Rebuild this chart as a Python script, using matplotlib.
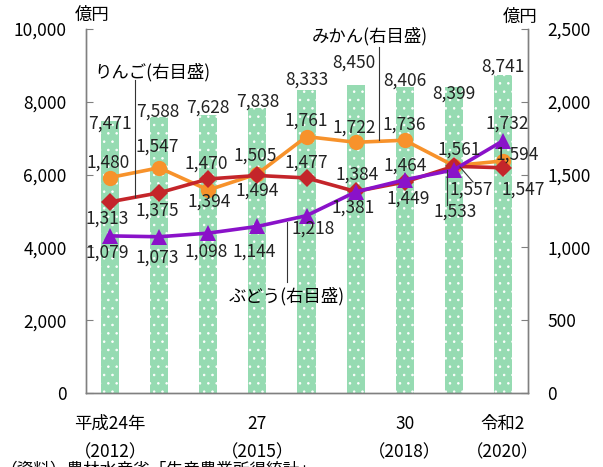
import numpy as np
import matplotlib
matplotlib.use("Agg")
import matplotlib.pyplot as plt
from matplotlib.lines import Line2D
from matplotlib.ticker import FuncFormatter

plt.rcParams.update({
    "font.family": ["Noto Sans CJK JP", "DejaVu Sans"],
    "font.size": 12.5,
    "hatch.linewidth": 0.6,
})

# ---------------------------
# Data (億円)
# ---------------------------
YEARS = [2012, 2013, 2014, 2015, 2016, 2017, 2018, 2019, 2020]
TOTAL = [7471, 7588, 7628, 7838, 8333, 8450, 8406, 8399, 8741]
MIKAN = [1480, 1547, 1394, 1505, 1761, 1722, 1736, 1561, 1594]
RINGO = [1313, 1375, 1470, 1494, 1477, 1384, 1449, 1557, 1547]
BUDOU = [1079, 1073, 1098, 1144, 1218, 1381, 1464, 1533, 1732]
XLABELS = {0: "平成24年\n（2012）", 3: "27\n（2015）", 6: "30\n（2018）", 8: "令和2\n（2020）"}

COL_BAR = "#96DBB2"
COL_MIKAN = "#F7922B"
COL_RINGO = "#C4252A"
COL_BUDOU = "#8A12C9"
COL_SPINE = "#808080"

# label offsets in pixels (dx, dy up)
OFF_TOTAL = [(0, -3), (-1, 5), (0, 8), (0, 6), (0, 10), (-2, 23), (0, 6), (0, -6), (0, 8)]
OFF_MIKAN = [(-2, 15), (-2, 21), (1, -12), (-2, 18), (0, 16), (-1, 15), (0, 16), (5, 16), (14, 6)]
OFF_RINGO = [(-3, -17), (-2, -18), (-2, 15), (0, -15), (0, 15), (2, 17), (3, -17), (17, -23), (20, -22)]
OFF_BUDOU = [(-3, -17), (-2, -21), (-2, -18), (-3, -25), (7, -13), (-2, -16), (0, 14), (1, -42), (4, 17)]

W, H = 603, 467


def px(x, y):
    return (x / W, 1 - y / H)


fig = plt.figure(figsize=(W / 100, H / 100), dpi=100)
ax = fig.add_axes([86 / W, 1 - 393 / H, (528 - 86) / W, (393 - 29) / H])
ax2 = ax.twinx()

x = np.arange(len(YEARS))
ax.bar(x, TOTAL, width=0.37, color=COL_BAR, edgecolor="white", linewidth=0, hatch="..")
ax.set_xlim(-0.49, 8.51)
ax.set_ylim(0, 10000)
ax2.set_ylim(0, 2500)

for xi, v, (dx, dy) in zip(x, TOTAL, OFF_TOTAL):
    ax.annotate(f"{v:,}", (xi, v), xytext=(dx, dy), textcoords="offset pixels",
                ha="center", va="center", color="#222222")

series = [
    (MIKAN, COL_MIKAN, "o", 11, OFF_MIKAN),
    (RINGO, COL_RINGO, "D", 9.5, OFF_RINGO),
    (BUDOU, COL_BUDOU, "^", 12, OFF_BUDOU),
]
for vals, col, mk, ms, offs in series:
    ax2.plot(x, vals, color=col, lw=2.6, marker=mk, markersize=ms, markeredgewidth=0)
for vals, col, mk, ms, offs in series:
    for xi, v, (dx, dy) in zip(x, vals, offs):
        ax2.annotate(f"{v:,}", (xi, v), xytext=(dx, dy), textcoords="offset pixels",
                     ha="center", va="center", color="#222222", zorder=5)

# axes styling
for a in (ax, ax2):
    a.spines["top"].set_visible(False)
    for s in ("left", "right", "bottom"):
        a.spines[s].set_color(COL_SPINE)
        a.spines[s].set_linewidth(1.0)
ax.set_yticks(np.arange(0, 10001, 2000))
ax2.set_yticks(np.arange(0, 2501, 500))
fmt = FuncFormatter(lambda v, p: f"{int(v):,}")
ax.yaxis.set_major_formatter(fmt)
ax2.yaxis.set_major_formatter(fmt)
ax.tick_params(axis="y", direction="in", length=5, color=COL_SPINE, pad=14)
ax2.tick_params(axis="y", direction="in", length=5, color=COL_SPINE, pad=14)
ax.set_xticks(list(XLABELS.keys()))
ax.set_xticklabels(list(XLABELS.values()), linespacing=1.75)
ax.tick_params(axis="x", length=0, pad=16)

# unit labels
fig.text(*px(92, 15), "億円", ha="center", va="center")
fig.text(*px(520, 17), "億円", ha="center", va="center")

# series labels with leader lines
fig.text(*px(152, 72), "りんご(右目盛)", ha="center", va="center")
fig.text(*px(370, 36), "みかん(右目盛)", ha="center", va="center")
fig.text(*px(287, 296), "ぶどう(右目盛)", ha="center", va="center")
leaders = [
    ((135, 80), (135, 197)),
    ((379, 47), (379, 140)),
    ((287, 222), (287, 282)),
    ((460, 167), (473, 182)),
    ((447, 170), (447, 205)),
]
for (x0, y0), (x1, y1) in leaders:
    p0, p1 = px(x0, y0), px(x1, y1)
    fig.add_artist(Line2D([p0[0], p1[0]], [p0[1], p1[1]], color="#333333", lw=0.8,
                          transform=fig.transFigure))

# source line, cut at the bottom edge as in the original
fig.text(*px(0, 461), "（資料）農林水産省「生産農業所得統計」", ha="left", va="top", fontsize=12)

fig.savefig("out.png", dpi=100)
